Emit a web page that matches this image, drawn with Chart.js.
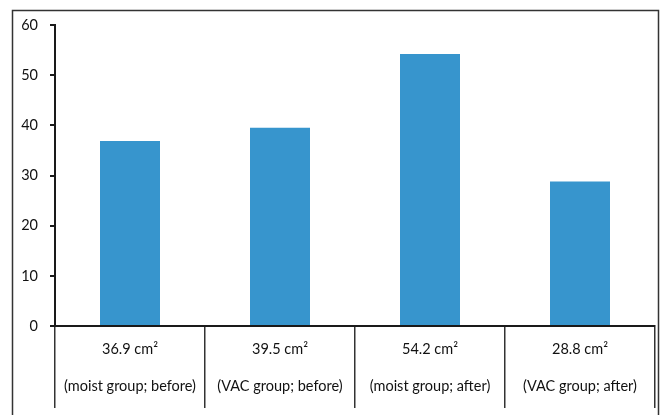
<!DOCTYPE html>
<html>
<head>
<meta charset="utf-8">
<style>
  html, body { margin: 0; padding: 0; background: #fff; }
  #wrap { width: 661px; height: 415px; position: relative; }
</style>
<script src="https://cdn.jsdelivr.net/npm/chart.js@4/dist/chart.umd.min.js"></script>
</head>
<body>
<div id="wrap"><canvas id="c"></canvas></div>
<script>
// Wound area per group (cm²)
const areaValues = [36.9, 39.5, 54.2, 28.8];
const groupLabels = ['(moist group; before)', '(VAC group; before)', '(moist group; after)', '(VAC group; after)'];
const valueLabels = areaValues.map(v => v.toFixed(1) + ' cm\u00B2');
const yTicks = [0, 10, 20, 30, 40, 50, 60];

const categories = areaValues.map((v, i) => [valueLabels[i], groupLabels[i]]);

// frame around the figure (open at the bottom)
const framePlugin = {
  id: 'frame',
  beforeDraw(chart) {
    const ctx = chart.ctx;
    ctx.save();
    ctx.strokeStyle = '#333';
    ctx.lineWidth = 1.5;
    ctx.beginPath();
    ctx.moveTo(12.5, 415);
    ctx.lineTo(12.5, 10.5);
    ctx.lineTo(658.5, 10.5);
    ctx.lineTo(658.5, 415);
    ctx.stroke();
    ctx.restore();
  }
};

new Chart(document.getElementById('c'), {
  type: 'bar',
  data: {
    labels: categories,
    datasets: [{
      data: areaValues,
      backgroundColor: '#3795CD',
      borderWidth: 0,
      categoryPercentage: 1,
      barPercentage: 0.4
    }]
  },
  options: {
    responsive: true,
    maintainAspectRatio: false,
    animation: false,
    layout: { padding: { left: 13, right: 6, top: 25, bottom: 0 } },
    plugins: { legend: { display: false }, tooltip: { enabled: false } },
    scales: {
      x: {
        afterFit(scale) { scale.height = 89; },
        grid: {
          offset: true,
          drawOnChartArea: false,
          drawTicks: true,
          tickLength: 82,
          color: '#333',
          lineWidth: 1.5
        },
        border: { display: true, color: '#1a1a1a', width: 2 },
        ticks: {
          padding: -77,
          color: '#111',
          maxRotation: 0,
          autoSkip: false,
          font: { family: 'Lato', size: 14.5, lineHeight: '37px' }
        }
      },
      y: {
        min: 0,
        max: 60,
        afterFit(scale) { scale.width = 42; },
        afterBuildTicks(scale) { scale.ticks = yTicks.map(v => ({ value: v })); },
        grid: {
          drawOnChartArea: false,
          drawTicks: true,
          tickLength: 5,
          color: '#1a1a1a',
          lineWidth: 2
        },
        border: { display: true, color: '#1a1a1a', width: 2 },
        ticks: {
          padding: 12,
          color: '#111',
          font: { family: 'Lato', size: 14.5 }
        }
      }
    }
  },
  plugins: [framePlugin]
});
</script>
</body>
</html>
